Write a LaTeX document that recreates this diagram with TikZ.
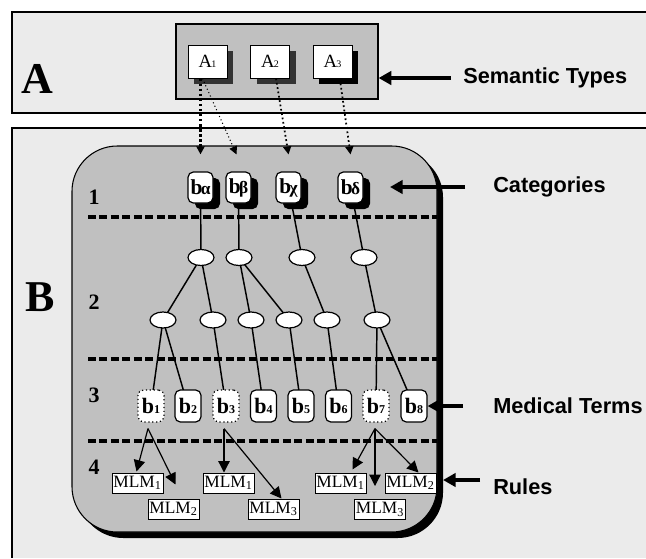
\documentclass[tikz,border=0pt]{standalone}
\usepackage{fontspec}
\setmainfont{Liberation Serif}
\setsansfont{Liberation Sans}
\usetikzlibrary{shadows,arrows.meta,calc,shapes.geometric}
\definecolor{panelbg}{gray}{0.92}
\definecolor{innergray}{gray}{0.753}
\definecolor{shadowgray}{gray}{0.2}
\pgfdeclarelayer{bg}
\pgfdeclarelayer{edges}
\pgfsetlayers{bg,edges,main}
\newcommand{\alab}[1]{{\fontsize{14}{14}\selectfont A\kern-0.5pt{\fontsize{7.5}{7.5}\selectfont #1}}}
\newcommand{\clab}[1]{{\bfseries\fontsize{16}{16}\selectfont b\kern-1.2pt{\fontsize{13}{13}\selectfont #1}}}
\newcommand{\blab}[1]{{\bfseries\fontsize{16.5}{16.5}\selectfont b{\fontsize{9}{9}\selectfont #1}}}
\newcommand{\mlab}[1]{MLM\textsubscript{#1}}
\begin{document}
\begin{tikzpicture}[x=0.75pt,y=-0.75pt,
  abox/.style={draw=black, fill=white, line width=0.75pt, minimum width=29.25pt, minimum height=24.75pt, inner sep=0pt},
  ashadow/.style={general shadow={fill=#1, shadow xshift=4.5pt, shadow yshift=-4.5pt}},
  catbox/.style={draw=black, fill=white, line width=0.9pt, rounded corners=4pt, minimum width=18.75pt, minimum height=23.25pt, inner sep=0pt,
     general shadow={fill=black, shadow xshift=5.25pt, shadow yshift=-4.5pt}},
  bbox/.style={draw=black, fill=white, line width=0.9pt, rounded corners=4pt, minimum width=19.5pt, minimum height=24pt, inner sep=0pt},
  bdot/.style={bbox, dotted},
  ell/.style={ellipse, draw=black, fill=white, line width=0.9pt, minimum width=19.5pt, minimum height=12pt, inner sep=0pt},
  mlm/.style={draw=black, fill=white, line width=0.75pt, minimum width=38.25pt, minimum height=15pt, inner sep=0pt, font=\fontsize{13}{13}\selectfont},
  tree/.style={line width=1.1pt},
  dashline/.style={line width=2.4pt, dash pattern=on 6pt off 2.6pt},
  dotarr/.style={dotted, -{Triangle[length=6pt,width=6pt]}},
  mlmarr/.style={line width=0.9pt, -{Triangle[length=8.5pt,width=8.5pt]}},
  bigarr/.style={line width=3.5pt, -{Triangle[length=9.5pt,width=10pt]}},
  biglet/.style={font=\bfseries\fontsize{33}{33}\selectfont},
  numlab/.style={font=\bfseries\fontsize{16.5}{16.5}\selectfont},
  rlab/.style={anchor=west, inner sep=0pt, font=\sffamily\bfseries\fontsize{16.3}{16.3}\selectfont}
]
\useasboundingbox (0,0) rectangle (646,558);
\begin{pgfonlayer}{bg}
\fill[white] (0,0) rectangle (646,558);
% panel A
\fill[panelbg] (12,12) rectangle (646,113);
\draw[line width=1pt] (646,12) -- (12,12) -- (12,113) -- (646,113);
% panel B
\fill[panelbg] (12,128) rectangle (646,558);
\draw[line width=1pt] (646,128) -- (12,128) -- (12,558);
% rounded region
\fill[black, rounded corners=34pt] (78,152) rectangle (443,538);
\draw[fill=innergray, line width=0.8pt, rounded corners=34pt] (72,146) rectangle (437,532);
% dashed separators
\draw[dashline] (88,217) -- (437,217);
\draw[dashline] (88,359) -- (437,359);
\draw[dashline] (88,441) -- (437,441);
\end{pgfonlayer}

% big letters and level numbers
\node[biglet] (labA) at (37,79) {A};
\node[biglet] (labB) at (40,297) {B};
\node[numlab] (n1) at (94,197) {1};
\node[numlab] (n2) at (94,302) {2};
\node[numlab] (n3) at (94,395) {3};
\node[numlab] (n4) at (94,467) {4};

% panel A inner box and semantic types
\node[draw=black, fill=innergray, line width=0.9pt, minimum width=151.5pt, minimum height=56.25pt, inner sep=0pt] (inner) at (277,61.5) {};
\node[abox, ashadow=shadowgray] (a1) at (207.5,61.5) {\alab{1}};
\node[abox, ashadow=shadowgray] (a2) at (270,61.5) {\alab{2}};
\node[abox, ashadow=black] (a3) at (332.5,61.5) {\alab{3}};

% categories
\node[catbox] (ca) at (200.5,187.5) {\clab{α}};
\node[catbox] (cb) at (238.5,187.5) {\clab{β}};
\node[catbox] (cc) at (288.5,187.5) {\clab{χ}};
\node[catbox] (cd) at (350.5,187.5) {\clab{δ}};

% ellipses row 1
\node[ell] (e1) at (201,257.5) {};
\node[ell] (e2) at (239,257.5) {};
\node[ell] (e3) at (302,257.5) {};
\node[ell] (e4) at (364,257.5) {};
% ellipses row 2
\node[ell] (f1) at (163,320) {};
\node[ell] (f2) at (213,320) {};
\node[ell] (f3) at (251,320) {};
\node[ell] (f4) at (289,320) {};
\node[ell] (f5) at (327,320) {};
\node[ell] (f6) at (377,320) {};

% medical terms
\node[bdot] (b1) at (151,406) {\blab{1}};
\node[bbox] (b2) at (188,406) {\blab{2}};
\node[bdot] (b3) at (226,406) {\blab{3}};
\node[bbox] (b4) at (263.5,406) {\blab{4}};
\node[bbox] (b5) at (301,406) {\blab{5}};
\node[bbox] (b6) at (338.5,406) {\blab{6}};
\node[bdot] (b7) at (376,406) {\blab{7}};
\node[bbox] (b8) at (414,406) {\blab{8}};

% rules
\node[mlm] (m1a) at (137.5,483) {\mlab{1}};
\node[mlm] (m2a) at (173.5,509) {\mlab{2}};
\node[mlm] (m1b) at (228.5,483) {\mlab{1}};
\node[mlm] (m3a) at (273.5,509) {\mlab{3}};
\node[mlm] (m1c) at (340.5,483) {\mlab{1}};
\node[mlm] (m2c) at (410.5,483) {\mlab{2}};
\node[mlm] (m3c) at (380,509.5) {\mlab{3}};

% tree edges
\begin{pgfonlayer}{edges}
\draw[tree] (ca.center) -- (e1.center);
\draw[tree] (cb.center) -- (e2.center);
\draw[tree] (cc.center) -- (e3.center);
\draw[tree] (cd.center) -- (e4.center);
\draw[tree] (e1.center) -- (f1.center);
\draw[tree] (e1.center) -- (f2.center);
\draw[tree] (e2.center) -- (f3.center);
\draw[tree] (e2.center) -- (f4.center);
\draw[tree] (e3.center) -- (f5.center);
\draw[tree] (e4.center) -- (f6.center);
\draw[tree] (f1.center) -- (b1.center);
\draw[tree] (f1.center) -- (b2.center);
\draw[tree] (f2.center) -- (b3.center);
\draw[tree] (f3.center) -- (b4.center);
\draw[tree] (f4.center) -- (b5.center);
\draw[tree] (f5.center) -- (b6.center);
\draw[tree] (f6.center) -- (b7.center);
\draw[tree] (f6.center) -- (b8.center);
\end{pgfonlayer}

% dotted arrows from semantic types to categories
\draw[dotarr, line width=1.8pt] (a1.south -| ca.north) -- ($(ca.north)+(0,-17)$);
\draw[dotarr, line width=0.8pt] ($(a1.south)+(-5,0)$) -- ($(cb.north)+(-2,-17)$);
\draw[dotarr, line width=1.3pt] ($(a2.south)+(6,0)$) -- ($(cc.north)+(0,-17)$);
\draw[dotarr, line width=1.3pt] ($(a3.south)+(8,5)$) -- ($(cd.north)+(0,-17)$);

% arrows from medical terms to rules
\coordinate (p1) at ($(b1.south)+(-3,6)$);
\coordinate (p3) at ($(b3.south)+(-2,6)$);
\coordinate (p7) at ($(b7.south)+(-1,6)$);
\draw[mlmarr] (p1) -- ($(m1a.north)+(-1,-1)$);
\draw[mlmarr] (p1) -- ($(m2a.north)+(2,-14)$);
\draw[mlmarr] (p3) -- (p3 |- m1b.north);
\draw[mlmarr] (p3) -- ($(m3a.north)+(8,0)$);
\draw[mlmarr] (p7) -- ($(m1c.north)+(12,-3)$);
\draw[mlmarr] (p7) -- ($(p7 |- m3c.north)+(0,-13)$);
\draw[mlmarr] (p7) -- ($(m2c.north)+(8,0)$);

% right-hand labels
\node[rlab] (st) at (463,78) {Semantic Types};
\node[rlab] (cat) at (493,187) {Categories};
\node[rlab] (mt) at (493,406) {Medical Terms};
\node[rlab] (ru) at (493,487) {Rules};
\coordinate (catTip) at (390,187);
\coordinate (ruTip) at (443,480);
\draw[bigarr] ($(st.west)+(-12,0)$) -- (inner.east |- st.west);
\draw[bigarr] ($(cat.west)+(-28,0)$) -- (catTip);
\draw[bigarr] ($(mt.west)+(-30,0)$) -- (b8.east);
\draw[bigarr] (ruTip -| ru.west) ++(-13,0) -- (ruTip);
\end{tikzpicture}
\end{document}
